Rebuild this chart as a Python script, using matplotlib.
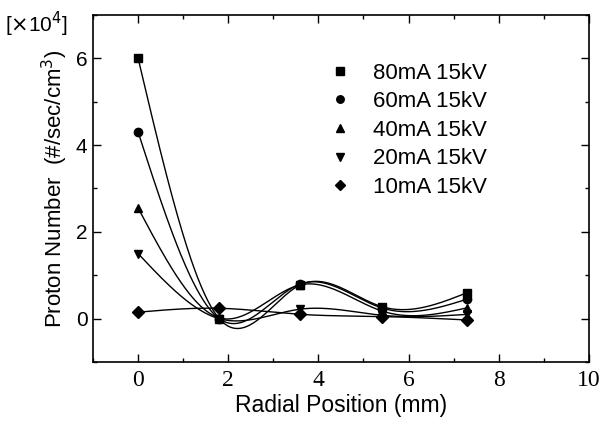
import numpy as np
import matplotlib.pyplot as plt
from matplotlib.ticker import MultipleLocator

# radial positions (mm)
posicion = [0.0, 1.8, 3.6, 5.4, 7.3]

# proton number [x10^4 #/sec/cm^3]
i80 = [6.0, 0.0, 0.78, 0.28, 0.60]
i60 = [4.3, 0.0, 0.80, 0.25, 0.45]
i40 = [2.55, 0.02, 0.78, 0.18, 0.25]
i20 = [1.5, 0.0, 0.22, 0.08, 0.10]
i10 = [0.15, 0.24, 0.10, 0.05, -0.03]

etiquetas = ["80mA 15kV", "60mA 15kV", "40mA 15kV", "20mA 15kV", "10mA 15kV"]
marcadores = ["s", "o", "^", "v", "D"]


def spline_natural(x, y, xs):
    # spline cubico natural para dibujar la curva suave
    x = np.asarray(x, float)
    y = np.asarray(y, float)
    n = len(x)
    h = np.diff(x)
    A = np.zeros((n, n))
    b = np.zeros(n)
    A[0, 0] = A[-1, -1] = 1
    for i in range(1, n - 1):
        A[i, i - 1] = h[i - 1]
        A[i, i] = 2 * (h[i - 1] + h[i])
        A[i, i + 1] = h[i]
        b[i] = 3 * ((y[i + 1] - y[i]) / h[i] - (y[i] - y[i - 1]) / h[i - 1])
    c = np.linalg.solve(A, b)
    ys = np.zeros_like(xs)
    for k, xv in enumerate(xs):
        i = min(max(np.searchsorted(x, xv) - 1, 0), n - 2)
        d = xv - x[i]
        bi = (y[i + 1] - y[i]) / h[i] - h[i] * (2 * c[i] + c[i + 1]) / 3
        di = (c[i + 1] - c[i]) / (3 * h[i])
        ys[k] = y[i] + bi * d + c[i] * d ** 2 + di * d ** 3
    return ys


fig = plt.figure(figsize=(6.04, 4.24), dpi=100)
ax = fig.add_axes([0.154, 0.146, 0.821, 0.819])

xs = np.linspace(posicion[0], posicion[-1], 300)
for serie, etq, m in zip([i80, i60, i40, i20, i10], etiquetas, marcadores):
    ax.plot(xs, spline_natural(posicion, serie, xs), color="black", lw=1.0)
    ax.plot(posicion, serie, m, color="black", ms=6, label=etq)

ax.set_xlim(-1, 10)
ax.set_ylim(-1, 7)
ax.xaxis.set_major_locator(MultipleLocator(2))
ax.xaxis.set_minor_locator(MultipleLocator(1))
ax.yaxis.set_major_locator(MultipleLocator(2))
ax.yaxis.set_minor_locator(MultipleLocator(1))
ax.tick_params(which="both", direction="in", top=True, right=True)
ax.tick_params(which="major", length=6, width=1)
ax.tick_params(which="minor", length=3, width=1)
ax.tick_params(axis="y", labelsize=15, pad=4)
ax.tick_params(axis="x", labelsize=17, pad=6)
for lbl in ax.get_xticklabels():
    lbl.set_fontfamily("Liberation Serif")
for lbl in ax.get_yticklabels():
    lbl.set_fontfamily("Liberation Sans")
for s in ax.spines.values():
    s.set_linewidth(1.2)

ax.set_xlabel("Radial Position (mm)", fontsize=16.5, fontfamily="Liberation Sans", labelpad=2)
ax.set_ylabel("Proton Number  (#/sec/cm$^3$)", fontsize=16, fontfamily="Liberation Sans", labelpad=4)
fig.text(0.008, 0.925, r"[$\times$10$^4$]", fontsize=15, fontfamily="Liberation Sans")

leg = ax.legend(loc="upper left", bbox_to_anchor=(0.44, 0.92), frameon=False,
                handlelength=0.8, handletextpad=1.1, labelspacing=0.34,
                markerscale=0.9, prop={"family": "Liberation Sans", "size": 16})

fig.savefig("out.png")
